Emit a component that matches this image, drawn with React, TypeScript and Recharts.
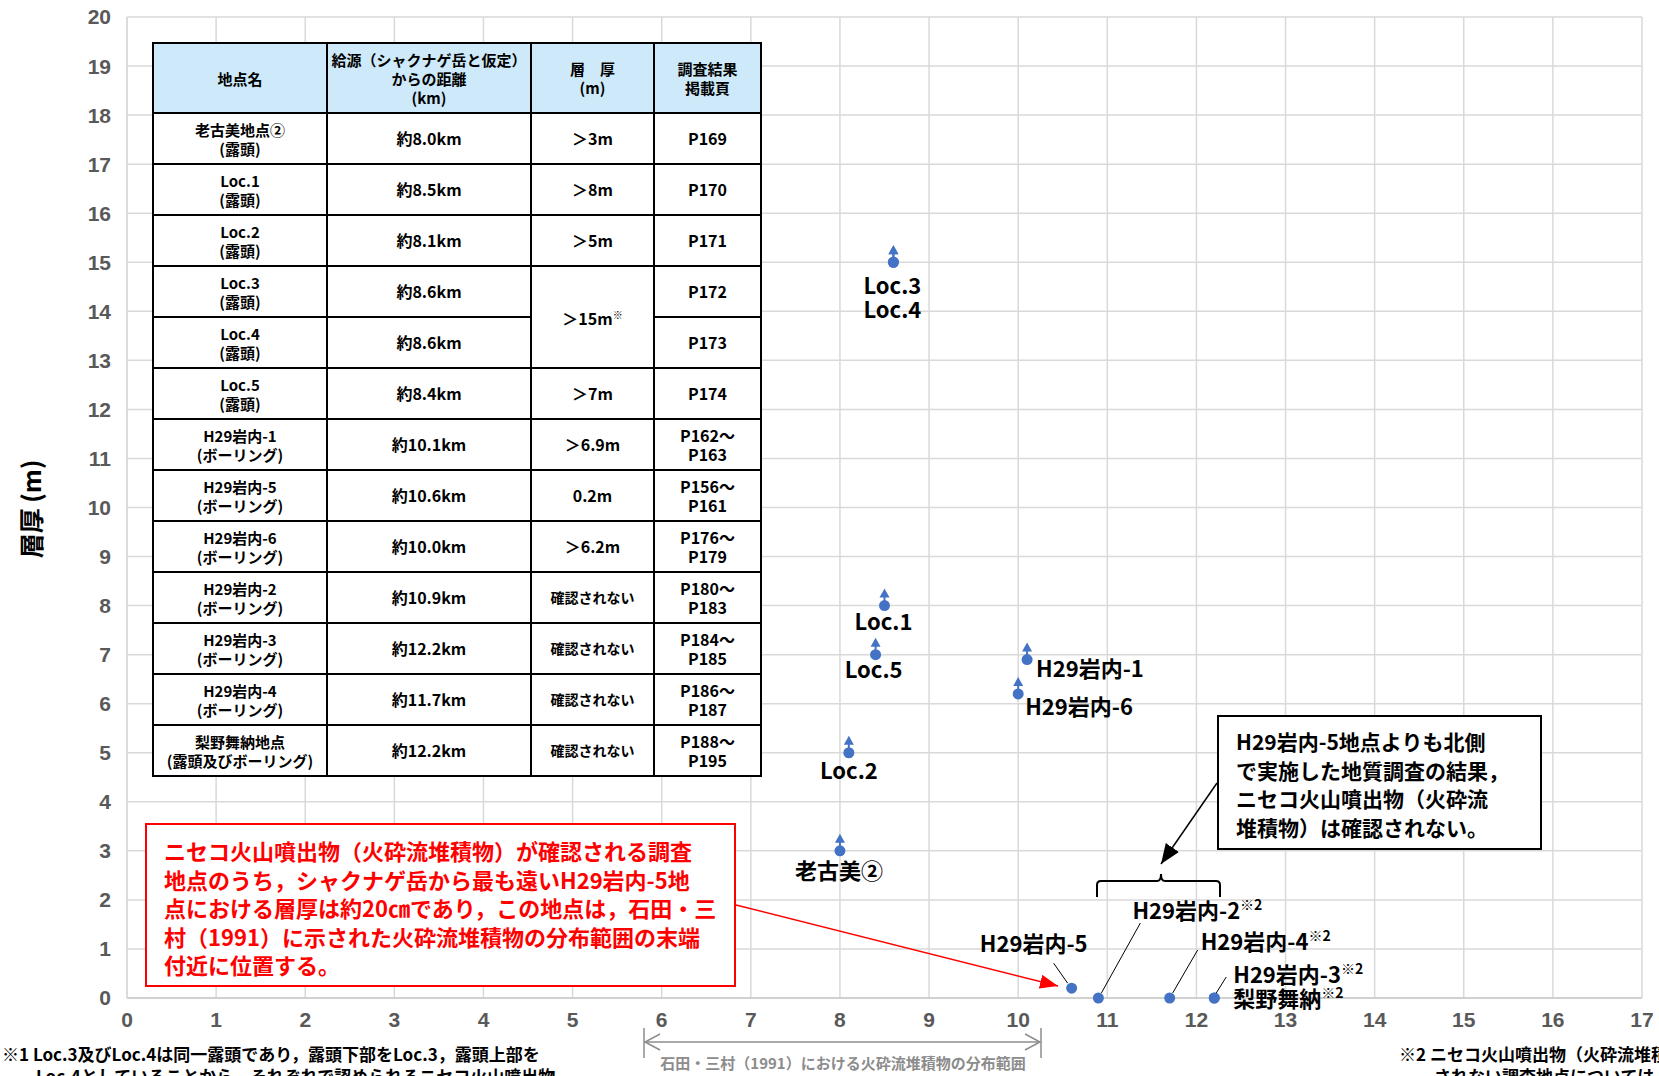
import React from 'react';
import { ScatterChart, Scatter, XAxis, YAxis, CartesianGrid } from 'recharts';

// survey sites plotted on the chart
const siteNames = ['老古美②', 'Loc.1', 'Loc.2', 'Loc.3', 'Loc.4', 'Loc.5', 'H29岩内-1', 'H29岩内-5', 'H29岩内-6', 'H29岩内-2', 'H29岩内-3', 'H29岩内-4', '梨野舞納'];
const distanceKm = [8.0, 8.5, 8.1, 8.6, 8.6, 8.4, 10.1, 10.6, 10.0, 10.9, 12.2, 11.7, 12.2];
const thicknessM = [3, 8, 5, 15, 15, 7, 6.9, 0.2, 6.2, 0, 0, 0, 0];
const isLowerBound = [true, true, true, true, true, true, true, false, true, false, false, false, false];

const xTicks = [0, 1, 2, 3, 4, 5, 6, 7, 8, 9, 10, 11, 12, 13, 14, 15, 16, 17];
const yTicks = [0, 1, 2, 3, 4, 5, 6, 7, 8, 9, 10, 11, 12, 13, 14, 15, 16, 17, 18, 19, 20];

// table at upper left
const tableHeaders = [['地点名'], ['給源（シャクナゲ岳と仮定）', 'からの距離', '(km)'], ['層　厚', '(m)'], ['調査結果', '掲載頁']];
const tableSites = ['老古美地点②', 'Loc.1', 'Loc.2', 'Loc.3', 'Loc.4', 'Loc.5', 'H29岩内-1', 'H29岩内-5', 'H29岩内-6', 'H29岩内-2', 'H29岩内-3', 'H29岩内-4', '梨野舞納地点'];
const tableMethods = ['(露頭)', '(露頭)', '(露頭)', '(露頭)', '(露頭)', '(露頭)', '(ボーリング)', '(ボーリング)', '(ボーリング)', '(ボーリング)', '(ボーリング)', '(ボーリング)', '(露頭及びボーリング)'];
const tableDistances = ['約8.0km', '約8.5km', '約8.1km', '約8.6km', '約8.6km', '約8.4km', '約10.1km', '約10.6km', '約10.0km', '約10.9km', '約12.2km', '約11.7km', '約12.2km'];
const tableThickness = ['＞3m', '＞8m', '＞5m', '＞15m', '', '＞7m', '＞6.9m', '0.2m', '＞6.2m', '確認されない', '確認されない', '確認されない', '確認されない'];
const tablePages = [['P169'], ['P170'], ['P171'], ['P172'], ['P173'], ['P174'], ['P162～', 'P163'], ['P156～', 'P161'], ['P176～', 'P179'], ['P180～', 'P183'], ['P184～', 'P185'], ['P186～', 'P187'], ['P188～', 'P195']];

const redNote = [
  'ニセコ火山噴出物（火砕流堆積物）が確認される調査',
  '地点のうち，シャクナゲ岳から最も遠いH29岩内-5地',
  '点における層厚は約20㎝であり，この地点は，石田・三',
  '村（1991）に示された火砕流堆積物の分布範囲の末端',
  '付近に位置する。',
];
const blackNote = ['H29岩内-5地点よりも北側', 'で実施した地質調査の結果，', 'ニセコ火山噴出物（火砕流', '堆積物）は確認されない。'];
const rangeLabel = '石田・三村（1991）における火砕流堆積物の分布範囲';
const footnote1 = ['※1 Loc.3及びLoc.4は同一露頭であり，露頭下部をLoc.3，露頭上部を', 'Loc.4としていることから，それぞれで認められるニセコ火山噴出物'];
const footnote2 = ['※2 ニセコ火山噴出物（火砕流堆積物）が確認', 'されない調査地点については，層厚0mとしてプロット'];

const points = siteNames.map((name, i) => ({ name, x: distanceKm[i], y: thicknessM[i], lb: isLowerBound[i] }));

const BLUE = '#4472c4';
const JP = '"Noto Sans CJK JP", "Noto Sans", sans-serif';

// label placement relative to each marker
type Lay = { text: string; dx: number; dy: number; anchor: 'start' | 'middle'; sup?: string; leader?: [number, number, number, number] };
const labelLayout: Record<string, Lay> = {
  '老古美②': { text: '老古美②', dx: -1, dy: 18, anchor: 'middle' },
  'Loc.1': { text: 'Loc.1', dx: -1, dy: 14, anchor: 'middle' },
  'Loc.2': { text: 'Loc.2', dx: 0, dy: 16, anchor: 'middle' },
  'Loc.3': { text: 'Loc.3', dx: -1, dy: 22, anchor: 'middle' },
  'Loc.4': { text: 'Loc.4', dx: -1, dy: 46, anchor: 'middle' },
  'Loc.5': { text: 'Loc.5', dx: -2, dy: 13, anchor: 'middle' },
  'H29岩内-1': { text: 'H29岩内-1', dx: 9, dy: 7, anchor: 'start' },
  'H29岩内-6': { text: 'H29岩内-6', dx: 7, dy: 11, anchor: 'start' },
  'H29岩内-5': { text: 'H29岩内-5', dx: -38, dy: -46, anchor: 'middle', leader: [-18, -25, -4, -5] },
  'H29岩内-2': { text: 'H29岩内-2', dx: 34, dy: -89, anchor: 'start', sup: '※2', leader: [42, -75, 3, -5] },
  'H29岩内-4': { text: 'H29岩内-4', dx: 31, dy: -58, anchor: 'start', sup: '※2', leader: [28, -48, 3, -5] },
  'H29岩内-3': { text: 'H29岩内-3', dx: 19, dy: -25, anchor: 'start', sup: '※2', leader: [12, -21, 2, -5] },
  '梨野舞納': { text: '梨野舞納', dx: 19, dy: -1, anchor: 'start', sup: '※2' },
};

function SiteMarker(props: any) {
  const { cx, cy, payload } = props;
  if (cx == null || cy == null) return null;
  const lay = labelLayout[payload.name];
  return (
    <g>
      {payload.lb && (
        <g>
          <line x1={cx} y1={cy - 4} x2={cx} y2={cy - 9} stroke={BLUE} strokeWidth={2} />
          <polygon points={`${cx},${cy - 17} ${cx - 5},${cy - 8} ${cx + 5},${cy - 8}`} fill={BLUE} />
        </g>
      )}
      <circle cx={cx} cy={cy} r={5.5} fill={BLUE} />
      {lay && lay.leader && (
        <line x1={cx + lay.leader[0]} y1={cy + lay.leader[1]} x2={cx + lay.leader[2]} y2={cy + lay.leader[3]} stroke="#000" strokeWidth={1} />
      )}
      {lay && (
        <text x={cx + lay.dx} y={cy + lay.dy} textAnchor={lay.anchor} dominantBaseline="central" fontFamily={JP} fontWeight={700} fontSize={22} fill="#000">
          {lay.text}
          {lay.sup && <tspan fontSize={14} dy={-5}>{lay.sup}</tspan>}
        </text>
      )}
    </g>
  );
}

const tickStyle = { fill: '#595959', fontSize: 21, fontWeight: 700, fontFamily: '"Liberation Sans", Arial, sans-serif' };

const cellBorder = '2px solid #000';
const cellBase: React.CSSProperties = { border: cellBorder, textAlign: 'center', verticalAlign: 'middle', padding: 0, lineHeight: '19px' };

function SurveyTable() {
  return (
    <table
      style={{
        position: 'absolute', left: 152, top: 42, width: 608, borderCollapse: 'collapse', tableLayout: 'fixed',
        fontFamily: JP, fontWeight: 700, fontSize: 15, background: '#fff', color: '#000',
      }}
    >
      <colgroup>
        <col style={{ width: 174 }} />
        <col style={{ width: 204 }} />
        <col style={{ width: 123 }} />
        <col style={{ width: 107 }} />
      </colgroup>
      <tbody>
        <tr style={{ height: 70 }}>
          {tableHeaders.map((h, i) => (
            <td key={i} style={{ ...cellBase, background: '#cde9fa' }}>
              {h.map((l, j) => <div key={j}>{l}</div>)}
            </td>
          ))}
        </tr>
        {tableSites.map((s, i) => (
          <tr key={s} style={{ height: 51 }}>
            <td style={cellBase}>
              <div>{s}</div>
              <div>{tableMethods[i]}</div>
            </td>
            <td style={{ ...cellBase, fontSize: 16 }}>{tableDistances[i]}</td>
            {i === 3 ? (
              <td rowSpan={2} style={{ ...cellBase, fontSize: 16 }}>
                {tableThickness[i]}<sup style={{ fontSize: 10 }}>※</sup>
              </td>
            ) : i === 4 ? null : (
              <td style={{ ...cellBase, fontSize: tableThickness[i].length > 5 ? 14 : 16 }}>{tableThickness[i]}</td>
            )}
            <td style={{ ...cellBase, fontSize: 16 }}>
              {tablePages[i].map((p, j) => <div key={j}>{p}</div>)}
            </td>
          </tr>
        ))}
      </tbody>
    </table>
  );
}

export default function App() {
  return (
    <div style={{ position: 'relative', width: 1659, height: 1076, overflow: 'hidden', background: '#fff' }}>
      <style>{'body{margin:0;}'}</style>
      <ScatterChart width={1659} height={1076} margin={{ top: 17, right: 17, bottom: 48, left: 0 }}>
        <CartesianGrid stroke="#d9d9d9" strokeWidth={1.5} />
        <XAxis
          type="number"
          dataKey="x"
          domain={[0, 17]}
          ticks={xTicks}
          interval={0}
          height={30}
          tick={tickStyle}
          tickLine={false}
          tickMargin={8}
          axisLine={{ stroke: '#d0d0d0', strokeWidth: 2 }}
        />
        <YAxis
          type="number"
          dataKey="y"
          domain={[0, 20]}
          ticks={yTicks}
          interval={0}
          width={127}
          tick={tickStyle}
          tickLine={false}
          tickMargin={10}
          axisLine={{ stroke: '#d9d9d9', strokeWidth: 1.5 }}
        />
        <Scatter data={points} isAnimationActive={false} shape={(p: any) => <SiteMarker {...p} />} />
      </ScatterChart>

      <SurveyTable />

      <div
        style={{
          position: 'absolute', left: 145, top: 823, width: 591, height: 164, border: '2px solid #ff0000', background: '#fff',
          color: '#ff0000', fontFamily: JP, fontWeight: 700, fontSize: 22, lineHeight: '28.5px', padding: '11px 0 0 17px',
          boxSizing: 'border-box', whiteSpace: 'nowrap',
        }}
      >
        {redNote.map((l, i) => <div key={i}>{l}</div>)}
      </div>

      <div
        style={{
          position: 'absolute', left: 1217, top: 715, width: 325, height: 135, border: '2px solid #000', background: '#fff',
          color: '#000', fontFamily: JP, fontWeight: 700, fontSize: 21, lineHeight: '28.5px', padding: '10px 0 0 17px',
          boxSizing: 'border-box', whiteSpace: 'nowrap',
        }}
      >
        {blackNote.map((l, i) => <div key={i}>{l}</div>)}
      </div>

      <svg width={1659} height={1076} style={{ position: 'absolute', left: 0, top: 0, pointerEvents: 'none' }}>
        <defs>
          <marker id="redHead" markerWidth={20} markerHeight={16} refX={18} refY={7} orient="auto" markerUnits="userSpaceOnUse">
            <polygon points="0,0 18,7 0,14" fill="#ff0000" />
          </marker>
          <marker id="blackHead" markerWidth={22} markerHeight={18} refX={20} refY={8} orient="auto" markerUnits="userSpaceOnUse">
            <polygon points="0,0 20,8 0,16" fill="#000" />
          </marker>
        </defs>
        <text
          x={30} y={509} transform="rotate(-90 30 509)" textAnchor="middle" dominantBaseline="central"
          fontFamily={JP} fontWeight={700} fontSize={25} fill="#000"
        >
          層厚 (m)
        </text>
        <line x1={736} y1={905} x2={1058} y2={986} stroke="#ff0000" strokeWidth={1.5} markerEnd="url(#redHead)" />
        <line x1={1217} y1={783} x2={1161} y2={864} stroke="#000" strokeWidth={1.5} markerEnd="url(#blackHead)" />
        <path
          d="M1097,897 L1097,885 Q1097,881 1101,881 L1157,881 Q1161,881 1161,874 Q1161,881 1165,881 L1216,881 Q1220,881 1220,885 L1220,897"
          fill="none" stroke="#000" strokeWidth={2}
        />
        <g stroke="#8c8c8c" strokeWidth={1.5} fill="none">
          <line x1={644} y1={1028} x2={644} y2={1058} />
          <line x1={1041} y1={1028} x2={1041} y2={1058} />
          <line x1={645} y1={1042} x2={1040} y2={1042} />
          <polyline points="660,1034 645,1042 660,1050" />
          <polyline points="1025,1034 1040,1042 1025,1050" />
        </g>
        <text x={843} y={1062} textAnchor="middle" dominantBaseline="central" fontFamily={JP} fontWeight={700} fontSize={15} fill="#8c8c8c">
          {rangeLabel}
        </text>
      </svg>

      <div style={{ position: 'absolute', left: 2, top: 1043, fontFamily: JP, fontWeight: 700, fontSize: 17, lineHeight: '22px', whiteSpace: 'nowrap', color: '#000' }}>
        <div>{footnote1[0]}</div>
        <div style={{ paddingLeft: 34 }}>{footnote1[1]}</div>
      </div>
      <div style={{ position: 'absolute', left: 1399, top: 1043, fontFamily: JP, fontWeight: 700, fontSize: 17, lineHeight: '22px', whiteSpace: 'nowrap', color: '#000' }}>
        <div>{footnote2[0]}</div>
        <div style={{ paddingLeft: 35 }}>{footnote2[1]}</div>
      </div>
    </div>
  );
}
